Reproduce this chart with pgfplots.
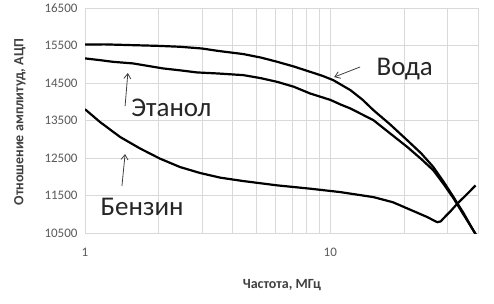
\documentclass[border=0pt]{standalone}
\usepackage{fontspec}
\setmainfont{Carlito}
\newfontfamily\serifB{Liberation Serif}
\usepackage{pgfplots}
\pgfplotsset{compat=1.18}
\usetikzlibrary{arrows.meta}
\definecolor{tickgray}{HTML}{595959}
\definecolor{gridgray}{HTML}{D9D9D9}
\definecolor{annot}{HTML}{404040}
\begin{document}
\begin{tikzpicture}[x=1pt,y=1pt]
\useasboundingbox (-85,-70) rectangle (409,233);
\begin{axis}[
  at={(0,0)}, anchor=south west,
  scale only axis, width=393pt, height=225pt,
  xmode=log, xmin=1, xmax=40, ymin=10500, ymax=16500,
  ytick={10500,11500,12500,13500,14500,15500,16500},
  scaled y ticks=false,
  yticklabel={\pgfmathprintnumber[fixed,precision=0,1000 sep={}]{\tick}},
  xtick={1,10}, xticklabels={1,10},
  minor xtick={2,3,4,5,6,7,8,9,20,30,40},
  grid=both,
  major grid style={draw=gridgray, line width=0.9pt},
  minor grid style={draw=gridgray, line width=0.9pt},
  axis line style={draw=gridgray, line width=0.9pt},
  tick style={draw=none},
  /pgf/number format/assume math mode=true,
  /pgf/number format/1000 sep={},
  ticklabel style={font=\fontsize{13}{15}\selectfont, text=tickgray},
  yticklabel style={xshift=-4pt},
  xticklabel style={yshift=-12pt},
  xlabel={\textbf{Частота, МГц}},
  ylabel={\textbf{Отношение амплитуд, АЦП}},
  label style={font=\fontsize{14}{16}\selectfont, text=annot},
  xlabel style={at={(rel axis cs:0.501,-0.231)}, anchor=center},
  ylabel style={at={(rel axis cs:-0.1654,0.493)}, anchor=center, rotate=0},
  clip=true,
]
% Вода
\addplot[black, line width=2.2pt] coordinates {
(1,15525) (1.2,15530) (1.53,15511) (2.0,15490) (2.44,15466) (3.0,15420) (3.46,15359)
(4.42,15271) (5.2,15180) (6.08,15065) (7.1,14940) (8.28,14798) (9.3,14690) (10.28,14576)
(12.08,14309) (13.5,14060) (15.0,13774) (17.5,13400) (20.6,12972) (23.5,12620) (26.3,12259)
(29,11860) (31.8,11457) (35,11020) (38.3,10567) (39.6,10420)
};
% Этанол
\addplot[black, line width=2.2pt] coordinates {
(1,15156) (1.15,15110) (1.30,15065) (1.57,15022) (2.08,14889) (2.5,14830) (2.86,14782)
(3.46,14755) (4.42,14710) (5.2,14630) (6.08,14530) (7.1,14400) (8.28,14220) (10,14050)
(10.98,13930) (12.08,13820) (15.0,13507) (17.5,13160) (20.6,12793) (23.5,12470) (26.3,12171)
(29,11800) (31.8,11423) (35,10980) (39.0,10487)
};
% Бензин
\addplot[black, line width=2.2pt] coordinates {
(1,13801) (1.15,13462) (1.39,13061) (1.68,12751) (2.02,12484) (2.44,12259) (2.95,12099)
(3.56,11976) (4.42,11885) (6.08,11770) (8.28,11682) (10.98,11591) (15.0,11457)
(18,11320) (20.6,11155) (23,11020) (24.9,10923) (26.3,10840) (27.3,10789) (28.2,10810)
(28.9,10888) (31,11090) (33.0,11289) (36,11530) (39.1,11770)
};
\node[anchor=base west, font=\fontsize{27}{30}\selectfont, text=black!85] at (rel axis cs:0.733,0.702) {Вода};
\node[anchor=base west, font=\fontsize{27}{30}\selectfont, text=black!85] at (rel axis cs:0.109,0.516) {Этанол};
\node[anchor=base west, font=\fontsize{27}{30}\selectfont, text=black!85] at (rel axis cs:0.031,0.080) {Бензин};
\draw[annot, line width=0.8pt, -{Straight Barb[length=5pt,width=7pt]}] (rel axis cs:0.700,0.738) -- (rel axis cs:0.634,0.693);
\draw[annot, line width=0.8pt, -{Straight Barb[length=5pt,width=7pt]}] (rel axis cs:0.102,0.564) -- (rel axis cs:0.109,0.711);
\draw[annot, line width=0.8pt, -{Straight Barb[length=5pt,width=7pt]}] (rel axis cs:0.094,0.209) -- (rel axis cs:0.102,0.351);
\node[font=\serifB\fontsize{14}{16}\selectfont, text=black!85] at (rel axis cs:0.936,-0.200) {В};
\end{axis}
\end{tikzpicture}
\end{document}
